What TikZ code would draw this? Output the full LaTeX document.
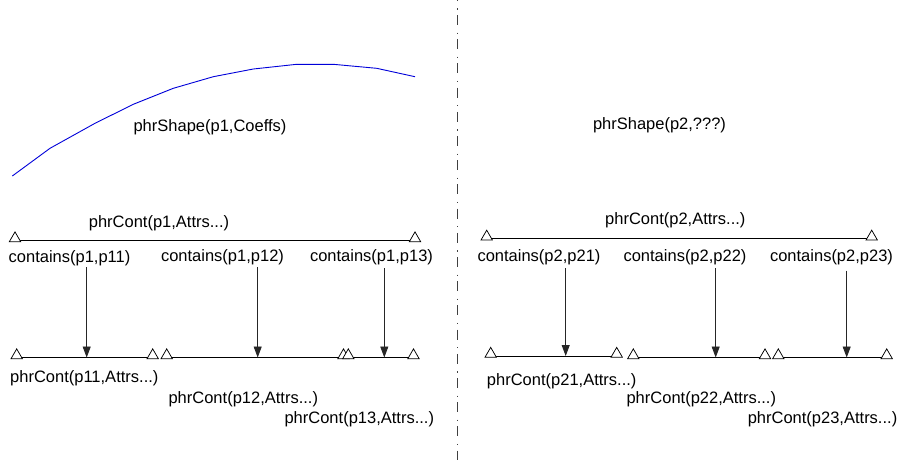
\documentclass[tikz,border=0pt]{standalone}
\usepackage{fontspec}
\setmainfont{Liberation Sans}
\usetikzlibrary{shapes.geometric,arrows.meta}
\begin{document}
\begin{tikzpicture}[x=1pt,y=-1pt,
  lbl/.style={inner sep=0pt,font=\fontsize{16.5}{19}\selectfont,text=black},
  tri/.style={regular polygon,regular polygon sides=3,minimum size=13pt,inner sep=0pt,draw=black,fill=white,line width=0.75pt,anchor=side 2},
  seg/.style={draw=black,line width=0.9pt},
  arr/.style={draw=black!85,line width=0.9pt,-{Triangle[width=8pt,length=11pt]}},
  curveline/.style={draw=blue!85!black,line width=0.9pt},
  sep/.style={draw=black!75,line width=0.9pt,dash pattern=on 10pt off 7.5pt on 1.2pt off 5.5pt}]
\useasboundingbox (0,0) rectangle (901,459);

% separator
\coordinate (sepA) at (457.3,-9.2);
\coordinate (sepB) at (457.3,465);
\draw[sep] (sepA) -- (sepB);

% blue shape curve
\draw[curveline] (12.3,176) -- (50,148.3) -- (95,123.3) -- (133.3,104.3) -- (173.3,88.3)
  -- (213.3,76.7) -- (253.3,69) -- (296.7,64.3) -- (333.3,64.3) -- (376.7,68.3) -- (415,76.7);

% texts
\node[lbl] (sh1) at (210,127.5) {phrShape(p1,Coeffs)};
\node[lbl] (sh2) at (659.5,125) {phrShape(p2,???)};
\node[lbl] (pc1) at (159,223.5) {phrCont(p1,Attrs...)};
\node[lbl] (pc2) at (675.3,220.5) {phrCont(p2,Attrs...)};
\node[lbl] (c11) at (69.5,258) {contains(p1,p11)};
\node[lbl] (c12) at (222.5,257) {contains(p1,p12)};
\node[lbl] (c13) at (371.5,257) {contains(p1,p13)};
\node[lbl] (c21) at (539,257) {contains(p2,p21)};
\node[lbl] (c22) at (685,257) {contains(p2,p22)};
\node[lbl] (c23) at (831.5,257) {contains(p2,p23)};
\node[lbl] (q11) at (84.3,378.5) {phrCont(p11,Attrs...)};
\node[lbl] (q12) at (243.3,399.5) {phrCont(p12,Attrs...)};
\node[lbl] (q13) at (359.3,419.5) {phrCont(p13,Attrs...)};
\node[lbl] (q21) at (561.7,381) {phrCont(p21,Attrs...)};
\node[lbl] (q22) at (701.3,399.5) {phrCont(p22,Attrs...)};
\node[lbl] (q23) at (822.5,419.5) {phrCont(p23,Attrs...)};

% line end points
\coordinate (a1) at (15,240.5);   \coordinate (a2) at (415,240.5);
\coordinate (b1) at (486.7,238.8); \coordinate (b2) at (871.7,238.8);
\coordinate (l1) at (16.7,357.5);  \coordinate (l2) at (152.7,357.5);
\coordinate (l3) at (166.7,357.5); \coordinate (l4) at (343.5,357.5);
\coordinate (l5) at (348.3,357.5); \coordinate (l6) at (413.5,357.5);
\coordinate (r1) at (490.7,356);   \coordinate (r2) at (616.7,356);
\coordinate (r3) at (633.3,357.5); \coordinate (r4) at (765,357.5);
\coordinate (r5) at (778.3,357.5); \coordinate (r6) at (886.7,357.5);

\draw[seg] (a1) -- (a2);
\draw[seg] (b1) -- (b2);
\draw[seg] (l1) -- (l2);
\draw[seg] (l3) -- (l4);
\draw[seg] (l5) -- (l6);
\draw[seg] (r1) -- (r2);
\draw[seg] (r3) -- (r4);
\draw[seg] (r5) -- (r6);

% arrows
\coordinate (s11) at (86.7,267);  \coordinate (e11) at (86.7,357.5);
\coordinate (s12) at (257.7,267); \coordinate (e12) at (257.7,357.5);
\coordinate (s13) at (384.3,268); \coordinate (e13) at (384.3,357.5);
\coordinate (s21) at (565.7,268); \coordinate (e21) at (565.7,356);
\coordinate (s22) at (715.7,268); \coordinate (e22) at (715.7,357.5);
\coordinate (s23) at (846.7,270.5); \coordinate (e23) at (846.7,357.5);
\draw[arr] (s11) -- (e11);
\draw[arr] (s12) -- (e12);
\draw[arr] (s13) -- (e13);
\draw[arr] (s21) -- (e21);
\draw[arr] (s22) -- (e22);
\draw[arr] (s23) -- (e23);

% triangles
\foreach \p in {a1,a2,b1,b2,l1,l2,l3,l4,l5,l6,r1,r2,r3,r4,r5,r6}{
  \node[tri] (t\p) at ([yshift=-1.5pt]\p) {};
}
\end{tikzpicture}
\end{document}
